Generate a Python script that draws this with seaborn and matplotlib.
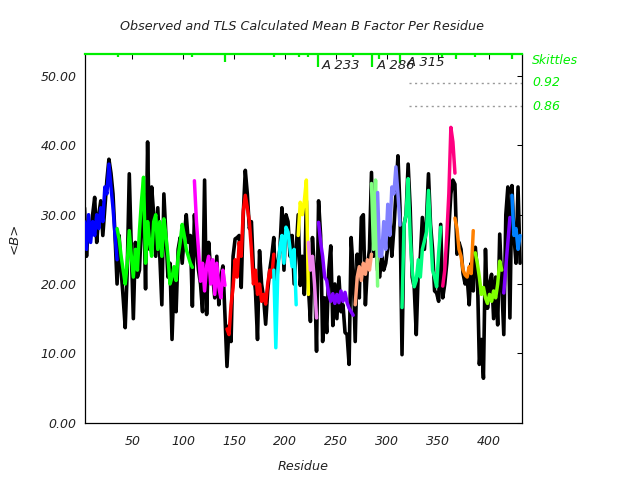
import numpy as np
import pandas as pd
import matplotlib
matplotlib.use("Agg")
import matplotlib.pyplot as plt
import seaborn as sns

# ---------------- data ----------------
first_residue = 3
residue_step = 2

# observed mean B per residue (odd residues 3..431)
observed_b = [
    31, 24, 29, 27, 30, 32.5, 26, 30, 32, 27,
    31, 35, 38, 36, 33, 27, 20, 27, 22, 18,
    13.7, 22, 35.9, 25, 15, 26, 21, 22, 29, 33,
    19.3, 40.5, 25, 34, 30, 24, 31, 24, 17, 33,
    27, 21, 23, 12, 21, 16, 25, 26.7, 23, 27,
    30, 26, 27, 16.8, 30, 25, 22, 20, 16, 35,
    15.6, 26, 22, 21, 18, 24, 17, 21, 22.6, 15.6,
    8.1, 14, 11.7, 24, 26.5, 26.7, 27, 19.5, 30, 36.4,
    33, 28, 29, 22, 19, 12, 24.8, 20, 18, 14.2,
    19, 22, 24, 26.7, 18, 23, 25, 31, 22, 30,
    29, 24, 27, 20, 25, 30, 19.8, 24, 18.5, 32,
    19.5, 14.6, 26.7, 22, 10.3, 32, 27, 11.7, 18, 13,
    22, 25.5, 14, 20, 15, 21, 16, 17, 13, 12.7,
    8.4, 26.7, 22, 11.7, 24.3, 18, 29.6, 30, 17, 22.4,
    25, 36.1, 24, 30, 22, 21, 24, 22, 23, 25.3,
    30, 24, 28, 33, 38.5, 31, 9.8, 28.6, 30, 37.3,
    31, 21, 19.5, 12.7, 22, 24, 29.6, 25, 29, 35.9,
    28.6, 25, 19, 18.7, 17.5, 28.6, 18, 20, 23, 28,
    33, 35, 34.4, 24.3, 26, 25, 21.5, 20, 21, 17,
    23, 19, 25.3, 22, 8.4, 12, 6.4, 25, 16.5, 20,
    21.4, 15, 21, 14.1, 27.2, 20, 12.7, 30, 34, 15.1,
    34.2, 27, 23, 34, 23,
]

# TLS calculated mean B, one list per TLS segment
tls_seg1 = [29, 25, 30, 26, 29, 27, 30, 28, 31, 29, 34, 33, 37.3, 34, 31, 27, 23.5]
tls_seg2 = [28, 26.5, 24, 22, 20, 23, 27.7, 24, 21, 25, 22, 27.7, 32, 35.4, 23, 29, 26, 24,
            29, 30, 25, 29, 24, 29.4, 27, 24, 20, 21, 22.5, 20.5, 24, 26, 28.6, 27, 25, 24,
            23, 22.4]
tls_seg3 = [34.9, 29, 25, 20.4, 23, 19, 22.6, 24, 20, 23.5, 18.5, 23, 19.5, 18, 22, 19.8]
tls_seg4 = [13.5, 12.7, 17, 19.5, 23.5, 21, 26, 24, 30.5, 32.8, 31, 29, 25, 20, 22, 18.5,
            20, 17.5, 18.5, 17.1, 20, 22, 21, 24.3]
tls_seg5 = [22, 10.8, 22, 25.3, 27, 23, 28.2, 27.5, 25, 22.5, 25, 17]
tls_seg6 = [27, 31.8, 30, 32, 35, 18.5]
tls_seg7 = [26, 22, 24, 20, 15.1]
tls_seg8 = [28.9, 26, 24, 21, 20.5, 18.5, 17.5, 18.6, 17.2, 18.5, 17.3, 19, 17.5, 18.8,
            17.3, 16.5, 16, 15.5]
tls_seg9 = [17, 21, 22.5, 20.5, 23, 21.4, 23.5, 22, 24.3]
tls_seg10 = [34.5, 25, 35, 19.7]
tls_seg11 = [33.2, 24, 24, 29, 25, 31.5, 27, 34, 33, 36.9, 33, 28.5]
tls_seg12 = [16.6, 28.6, 30, 35.2, 27, 22, 19.6, 20.5, 23.5, 21, 25, 26.2, 27.5, 33.5,
             27.5, 22, 21, 19.6, 24.5, 28.2]
tls_seg13 = [19.7, 22, 27, 33, 42.6, 40.5, 36]
tls_seg14 = [29.5, 28, 25, 24, 22, 21.3, 21, 22.5, 21.5, 27.7]
tls_seg15 = [24.5, 23, 21, 18.5, 19.5, 18, 17.2, 18.5, 17.5, 19, 18, 20, 23.3, 22]
tls_seg16 = [18.7, 22.5, 26, 29.6]
tls_seg17 = [32.8, 27, 28, 25, 27]

tls_values = [tls_seg1, tls_seg2, tls_seg3, tls_seg4, tls_seg5, tls_seg6, tls_seg7,
              tls_seg8, tls_seg9, tls_seg10, tls_seg11, tls_seg12, tls_seg13,
              tls_seg14, tls_seg15, tls_seg16, tls_seg17]
tls_start_residue = [3, 35, 111, 143, 189, 213, 223, 233, 269, 285, 291, 315, 355,
                     367, 387, 415, 423]

# skittles (segment boundaries) and their depth
skittle_residue = [36, 109, 141, 189, 213.5, 223, 232, 266.5, 285.5, 292.5, 313.5,
                   354, 368, 386.5, 414, 423]
skittle_bottom = [52.8, 52.7, 52.08, 52.8, 52.8, 52.8, 51.36, 52.8, 51.36, 52.42,
                  51.85, 52.8, 52.5, 52.7, 53.0, 52.5]
threshold_b = [49.0, 45.64]
threshold_labels = ["0.92", "0.86"]
break_labels = ["A 233", "A 286", "A 315"]

x_ticks = [50, 100, 150, 200, 250, 300, 350, 400]
y_ticks = [0, 10, 20, 30, 40, 50]
y_tick_labels = ["0.00", "10.00", "20.00", "30.00", "40.00", "50.00"]

# ---------------- styles ----------------
seg_colors = ["#0000ff", "#00ff00", "#ff00ff", "#ff0000", "#00ffff", "#ffff00",
              "#ee82ee", "#8000ff", "#ffa07a", "#80ff80", "#8080ff", "#00ff80",
              "#ff0080", "#ff8000", "#80ff00", "#8000ff", "#0080ff"]
green = "#00ee00"
text_col = "#222222"

sns.set_style("white")
plt.rcParams["font.family"] = ["DejaVu Sans"]

obs_df = pd.DataFrame({
    "Residue": first_residue + residue_step * np.arange(len(observed_b)),
    "B": observed_b,
})
rows = []
for i, (start, vals) in enumerate(zip(tls_start_residue, tls_values)):
    for j, v in enumerate(vals):
        rows.append({"Residue": start + residue_step * j, "B": v, "seg": f"s{i}"})
tls_df = pd.DataFrame(rows)
palette = {f"s{i}": c for i, c in enumerate(seg_colors)}

W, H = 640, 480
fig = plt.figure(figsize=(6.4, 4.8), dpi=100)
left_px, right_px, top_px, bottom_px = 84.5, 521.7, 53.5, 422.6
ax = fig.add_axes([left_px / W, 1 - bottom_px / H,
                   (right_px - left_px) / W, (bottom_px - top_px) / H])

sns.lineplot(data=obs_df, x="Residue", y="B", color="black", lw=2.6,
             estimator=None, ax=ax, zorder=2)
sns.lineplot(data=tls_df, x="Residue", y="B", hue="seg", palette=palette, lw=2.5,
             estimator=None, legend=False, ax=ax, zorder=3)

ax.set_xlim(3, 432.6)
ymax = 53.26
ax.set_ylim(0, ymax)
ax.set_xticks(x_ticks)
ax.set_xticklabels([str(t) for t in x_ticks])
ax.set_yticks(y_ticks)
ax.set_yticklabels(y_tick_labels)
ax.tick_params(direction="in", length=3.6, width=0.75, top=True, right=True,
               labelsize=9, labelcolor=text_col, color="black")
ax.tick_params(axis="y", pad=5.5)
ax.tick_params(axis="x", pad=9)
for lbl in ax.get_xticklabels() + ax.get_yticklabels():
    lbl.set_fontstyle("italic")
ax.set_xlabel("")
ax.set_ylabel("")
for s in ["left", "right", "bottom"]:
    ax.spines[s].set_color("black")
    ax.spines[s].set_linewidth(0.9)
ax.spines["top"].set_color(green)
ax.spines["top"].set_linewidth(1.6)

# skittles
ax.vlines(skittle_residue, skittle_bottom, ymax, colors=green, lw=1.6, zorder=4)
ax.hlines(threshold_b, 322, 432.6, colors="#999999", linestyles=(0, (1.5, 2.5)),
          lw=1.0, zorder=1)

# text
fig.text(302 / W, 1 - 27 / H, "Observed and TLS Calculated Mean B Factor Per Residue",
         ha="center", va="center", fontsize=9.2, style="italic", color=text_col)
fig.text(303 / W, 1 - 466 / H, "Residue", ha="center", va="center", fontsize=9.2,
         style="italic", color=text_col)
fig.text(14 / W, 1 - 238 / H, "<B>", ha="center", va="center", fontsize=9.5,
         style="italic", rotation=90, color=text_col)
fig.text(532 / W, 1 - 61 / H, "Skittles", ha="left", va="center", fontsize=9,
         style="italic", color=green)
for lab, ypx in zip(threshold_labels, [83, 106]):
    fig.text(532 / W, 1 - ypx / H, lab, ha="left", va="center", fontsize=9,
             style="italic", color=green)
for lab, (xpx, ypx) in zip(break_labels, [(321.7, 65.3), (376.7, 65.3), (406.7, 62)]):
    fig.text(xpx / W, 1 - ypx / H, lab, ha="left", va="center", fontsize=9.5,
             style="italic", color=text_col)

fig.savefig("out.png", dpi=100)
